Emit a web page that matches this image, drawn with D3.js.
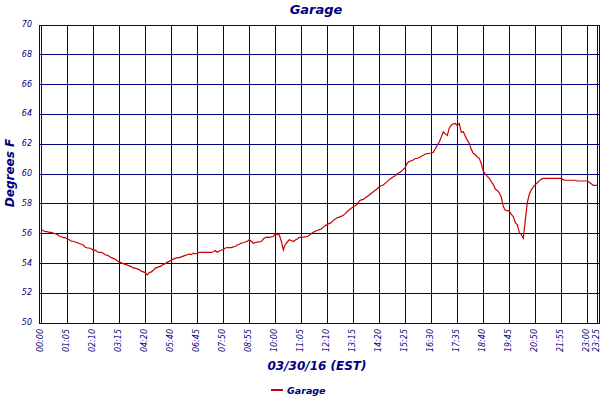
<!DOCTYPE html>
<html><head><meta charset="utf-8">
<script src="https://cdn.jsdelivr.net/npm/d3@7"></script>
<style>body{margin:0;background:#fff}svg{display:block}</style>
</head><body>
<svg id="c" width="600" height="400"></svg>
<script>
// 5-minute samples, Degrees F
const temps = [
56.3,56.2,56.15,56.15,56.1,56.1,56.05,56.0,55.95,55.85,
55.8,55.75,55.75,55.65,55.6,55.5,55.5,55.45,55.4,55.35,
55.3,55.25,55.1,55.05,55.05,55.0,54.9,54.9,54.8,54.75,
54.75,54.7,54.6,54.55,54.5,54.4,54.35,54.3,54.2,54.1,
54.05,54.0,53.95,53.9,53.85,53.8,53.7,53.7,53.65,53.6,
53.5,53.45,53.4,53.25,53.4,53.45,53.55,53.7,53.75,53.8,
53.85,53.95,54.0,54.1,54.15,54.25,54.3,54.35,54.4,54.4,
54.45,54.5,54.55,54.6,54.65,54.6,54.7,54.65,54.7,54.75,
54.75,54.75,54.75,54.75,54.75,54.75,54.8,54.88,54.76,54.85,
54.9,54.95,55.05,55.08,55.08,55.08,55.12,55.15,55.25,55.3,
55.38,55.4,55.45,55.5,55.6,55.5,55.37,55.42,55.44,55.46,
55.48,55.65,55.75,55.78,55.76,55.8,55.82,56.0,55.95,55.93,
55.5,54.92,55.3,55.45,55.6,55.55,55.48,55.58,55.65,55.76,
55.77,55.78,55.8,55.82,55.9,56.02,56.1,56.18,56.22,56.28,
56.32,56.45,56.55,56.62,56.7,56.75,56.9,57.0,57.08,57.12,
57.17,57.25,57.35,57.5,57.62,57.72,57.82,57.9,57.98,58.2,
58.28,58.31,58.42,58.5,58.6,58.72,58.82,58.92,59.02,59.15,
59.22,59.27,59.4,59.5,59.65,59.72,59.82,59.9,60.02,60.1,
60.2,60.32,60.45,60.75,60.85,60.9,60.95,61.05,61.05,61.12,
61.2,61.27,61.35,61.38,61.4,61.42,61.45,61.7,61.95,62.15,
62.5,62.84,62.7,62.6,63.1,63.28,63.38,63.4,63.25,63.4,
62.8,62.84,62.55,62.28,62.06,61.66,61.4,61.3,61.15,61.06,
60.7,60.2,60.0,59.85,59.72,59.5,59.3,59.0,58.9,58.75,
58.45,57.83,57.58,57.55,57.52,57.3,57.15,56.75,56.6,56.1,
55.95,55.7,56.9,58.1,58.65,58.95,59.15,59.3,59.42,59.55,
59.65,59.72,59.72,59.72,59.72,59.72,59.72,59.72,59.72,59.72,
59.72,59.62,59.59,59.59,59.59,59.59,59.59,59.59,59.54,59.54,
59.54,59.54,59.54,59.54,59.45,59.35,59.25,59.25,59.25
];
const tickIndex = [0,13,26,39,52,65,78,91,104,117,130,143,156,169,182,195,208,221,234,247,260,273,278];
const tickLabels = ["00:00","01:05","02:10","03:15","04:20","05:40","06:45","07:50","08:55","10:00","11:05","12:10","13:15","14:20","15:25","16:30","17:35","18:40","19:45","20:50","21:55","23:00","23:25"];
const yTicks = [50,52,54,56,58,60,62,64,66,68,70];
const seriesName = "Garage";
const chartTitle = "Garage";
const xTitle = "03/30/16 (EST)";
const yTitle = "Degrees F";

const navy = "#000080", red = "#c80000";
const svg = d3.select("#c");
const x = d3.scaleLinear().domain([0, temps.length - 1]).range([41.3, 597.3]);
const y = d3.scaleLinear().domain([50, 70]).range([323.3, 25]);

// grid
const g = svg.append("g").attr("stroke", navy).attr("stroke-width", 1)
  .attr("fill", "none").attr("shape-rendering", "crispEdges");
g.selectAll(".h").data(yTicks).join("line")
  .attr("x1", 39).attr("x2", 599.5).attr("y1", d => y(d)).attr("y2", d => y(d));
g.selectAll(".v").data(tickIndex).join("line")
  .attr("x1", d => x(d)).attr("x2", d => x(d)).attr("y1", y(70)).attr("y2", y(50));
g.append("line").attr("x1", 39).attr("x2", 39).attr("y1", y(70)).attr("y2", y(50));
g.append("line").attr("x1", 599.5).attr("x2", 599.5).attr("y1", y(70)).attr("y2", y(50));

// y labels
svg.append("g").selectAll("text").data(yTicks).join("text")
  .attr("x", 32).attr("y", d => y(d) + 2)
  .attr("text-anchor", "end").attr("fill", navy)
  .style("font", "italic 8px 'DejaVu Sans'").text(d => d);

// x labels
svg.append("g").selectAll("text").data(tickIndex).join("text")
  .attr("transform", d => `translate(${x(d) + 1.6},329) rotate(-90)`)
  .attr("text-anchor", "end").attr("fill", navy)
  .style("font", "italic 8px 'DejaVu Sans'")
  .text((d, i) => tickLabels[i]);

// line
svg.append("path").datum(temps)
  .attr("d", d3.line().x((d, i) => x(i)).y(d => y(d)))
  .attr("fill", "none").attr("stroke", red).attr("stroke-width", 1.2);

// titles
const tf = "italic bold 13px 'DejaVu Sans'";
svg.append("text").attr("x", 316).attr("y", 14).attr("text-anchor", "middle")
  .attr("fill", navy).style("font", tf).text(chartTitle);
svg.append("text").attr("x", 317).attr("y", 370).attr("text-anchor", "middle")
  .attr("fill", navy).style("font", "italic bold 12px 'DejaVu Sans'").text(xTitle);
svg.append("text").attr("transform", "translate(14,173) rotate(-90)").attr("text-anchor", "middle")
  .attr("fill", navy).style("font", "italic bold 12px 'DejaVu Sans'").text(yTitle);

// legend
svg.append("line").attr("x1", 271).attr("x2", 283).attr("y1", 390).attr("y2", 390)
  .attr("stroke", red).attr("stroke-width", 2);
svg.append("text").attr("x", 287).attr("y", 393.5).attr("fill", navy)
  .style("font", "italic bold 9.5px 'DejaVu Sans'").text(seriesName);
</script>
</body></html>
